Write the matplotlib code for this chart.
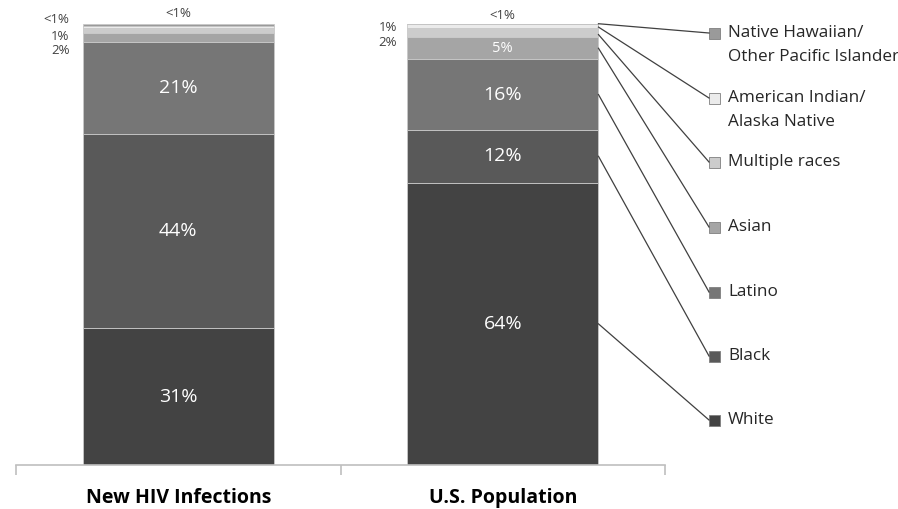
import matplotlib
matplotlib.use("Agg")
import matplotlib.pyplot as plt
import numpy as np

plt.rcParams['font.family'] = ['Open Sans', 'DejaVu Sans']

# data
categories = ['New HIV Infections', 'U.S. Population']
groups = ['White', 'Black', 'Latino', 'Asian', 'Multiple races',
          'American Indian/\nAlaska Native', 'Native Hawaiian/\nOther Pacific Islander']
hiv_values = [31, 44, 21, 2, 1, 0.5, 0.5]
pop_values = [64, 12, 16, 5, 2, 1, 0.2]
hiv_labels = ['31%', '44%', '21%', '2%', '1%', '<1%', '<1%']
pop_labels = ['64%', '12%', '16%', '5%', '2%', '1%', '<1%']
colors = ['#434343', '#595959', '#767676', '#a5a5a5', '#cccccc', '#ebebeb', '#9a9a9a']

W, H = 898, 509
fig = plt.figure(figsize=(W / 100, H / 100), dpi=100)
ax = fig.add_axes([16 / W, 1 - 465 / H, 649 / W, 441 / H])

x = np.arange(len(categories))
bar_w = 0.59
values = np.array([hiv_values, pop_values])
bottoms = np.zeros(len(categories))
for i, g in enumerate(groups):
    ax.bar(x, values[:, i], bar_w, bottom=bottoms, color=colors[i],
           edgecolor='#c8c8c8', linewidth=0.6, zorder=2)
    bottoms += values[:, i]

ax.set_xlim(-0.5, 1.5)
ax.set_ylim(0, 100)
ax.set_yticks([])
for s in ['top', 'right', 'left']:
    ax.spines[s].set_visible(False)
ax.spines['bottom'].set_color('#bfbfbf')
ax.spines['bottom'].set_linewidth(1.2)
ax.set_xticks([-0.5, 0.5, 1.5])
ax.set_xticklabels([])
ax.tick_params(axis='x', length=7, color='#bfbfbf', width=1.2)
for xi, c in zip(x, categories):
    ax.text(xi, -7.4, c, ha='center', va='center', fontsize=14,
            fontweight='bold', color='black')

# value labels
def put_labels(xi, vals, labs):
    cum = np.concatenate([[0], np.cumsum(vals)])
    for i, (v, lab) in enumerate(zip(vals, labs)):
        mid = (cum[i] + cum[i + 1]) / 2
        if v >= 10:
            ax.text(xi, mid, lab, ha='center', va='center', color='white', fontsize=14)
        elif v >= 4:
            ax.text(xi, mid, lab, ha='center', va='center', color='white', fontsize=10.5)
    return cum

cum1 = put_labels(0, hiv_values, hiv_labels)
cum2 = put_labels(1, pop_values, pop_labels)

left1 = 0 - bar_w / 2
left2 = 1 - bar_w / 2
small = dict(ha='right', va='center', color='#404040', fontsize=9.5)
# HIV small labels
ax.text(left1 - 0.04, 94.1, hiv_labels[3], **small)
ax.text(left1 - 0.04, 97.1, hiv_labels[4], **small)
ax.text(left1 - 0.04, 101.1, hiv_labels[5], **small)
ax.text(0, 102.3, hiv_labels[6], ha='center', va='center', color='#404040', fontsize=9.5)
# Population small labels
ax.text(left2 - 0.031, 95.7, pop_labels[4], **small)
ax.text(left2 - 0.031, 99.1, pop_labels[5], **small)
ax.text(1, 102.0, pop_labels[6], ha='center', va='center', color='#404040', fontsize=9.5)

# legend with leader lines from the right bar
leg_y = [420, 356, 292, 227, 162, 98, 33]
leg_x = 715
right2 = 1 + bar_w / 2
to_px = ax.transData
for i, g in enumerate(groups):
    mid = (cum2[i] + cum2[i + 1]) / 2
    if i >= 4:
        mid = cum2[i] + pop_values[i] * 0.3
    x0, y0 = to_px.transform((right2, mid))
    y0 = H - y0
    fx = (leg_x - 6) / W
    fy = 1 - leg_y[i] / H
    fig.add_artist(plt.Line2D([x0 / W, fx], [1 - y0 / H, fy], color='#404040',
                              linewidth=0.9, transform=fig.transFigure))
    fig.add_artist(plt.Rectangle(((leg_x - 6) / W, fy - 5.5 / H), 11 / W, 11 / H,
                                 facecolor=colors[i], edgecolor='#7f7f7f', linewidth=0.6,
                                 transform=fig.transFigure))
    lines = g.split('\n')
    fig.text((leg_x + 13) / W, fy, lines[0], ha='left', va='center',
             fontsize=12.3, color='#262626')
    if len(lines) > 1:
        fig.text((leg_x + 13) / W, fy - 24 / H, lines[1], ha='left', va='center',
                 fontsize=12.3, color='#262626')

fig.savefig('out.png', dpi=100)
